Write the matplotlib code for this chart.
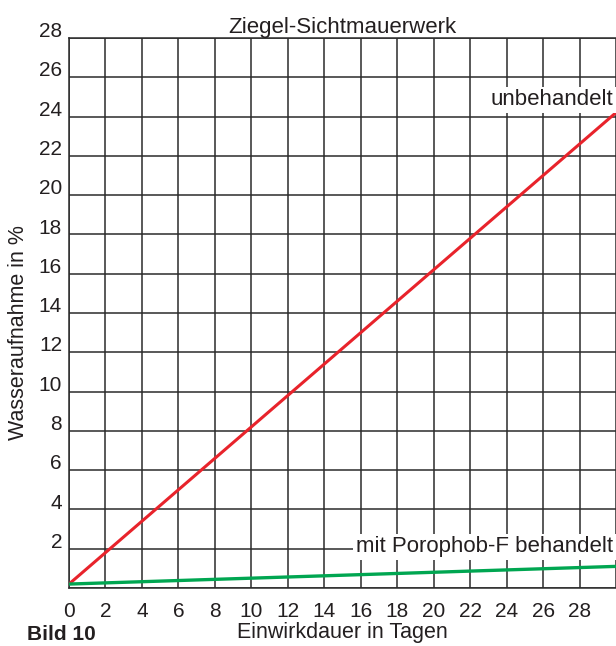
import matplotlib.pyplot as plt
from matplotlib.transforms import ScaledTranslation

plt.rcParams['font.family'] = ['Liberation Sans', 'DejaVu Sans']

# Daten
tage = [0, 30]
unbehandelt = [0.2, 24.2]
behandelt = [0.2, 1.1]
x_ticks = list(range(0, 30, 2))
y_ticks = list(range(0, 29, 2))

fig = plt.figure(figsize=(6.16, 6.46), dpi=100)
ax = fig.add_axes([0.112, 0.0898, 0.888, 0.8514])

ax.plot(tage, unbehandelt, color='#e8232b', lw=2.2, solid_capstyle='butt', zorder=3)
ax.plot(tage, behandelt, color='#00a651', lw=2.4, solid_capstyle='butt', zorder=3)

ax.set_xlim(0, 30)
ax.set_ylim(0, 28)
ax.set_xticks(list(range(0, 31, 2)))
ax.set_xticklabels([str(v) for v in x_ticks] + [''])
ax.set_yticks(y_ticks)
ax.set_yticklabels([''] + [str(v) for v in y_ticks[1:]])
ax.tick_params(length=0, labelsize=15, colors='#231f20')
ax.tick_params(axis='x', pad=10)
ax.tick_params(axis='y', pad=5)
shift = ScaledTranslation(0, 6 / 72, fig.dpi_scale_trans)
for lab in ax.get_yticklabels():
    lab.set_transform(lab.get_transform() + shift)

ax.grid(True, color='#2b2b2b', lw=1.1)
for s in ax.spines.values():
    s.set_color('#2b2b2b')
    s.set_linewidth(1.1)
ax.spines['right'].set_visible(False)

ax.text(29.85, 24.85, 'unbehandelt', ha='right', va='center', fontsize=16, color='#231f20',
        bbox=dict(facecolor='white', edgecolor='none', pad=2), zorder=4)
ax.text(29.85, 2.1, 'mit Porophob-F behandelt', ha='right', va='center', fontsize=16,
        color='#231f20', bbox=dict(facecolor='white', edgecolor='none', pad=2), zorder=4)

ax.set_title('Ziegel-Sichtmauerwerk', fontsize=16, color='#231f20', pad=3)
ax.set_xlabel('Einwirkdauer in Tagen', fontsize=15.5, color='#231f20', labelpad=1)
fig.text(0.03, 0.485, 'Wasseraufnahme in %', rotation=90, ha='center', va='center',
         fontsize=15.5, color='#231f20')
fig.text(0.044, 0.01, 'Bild 10', fontsize=15, fontweight='bold', color='#231f20',
         va='baseline')

fig.savefig('out.png', dpi=100)
